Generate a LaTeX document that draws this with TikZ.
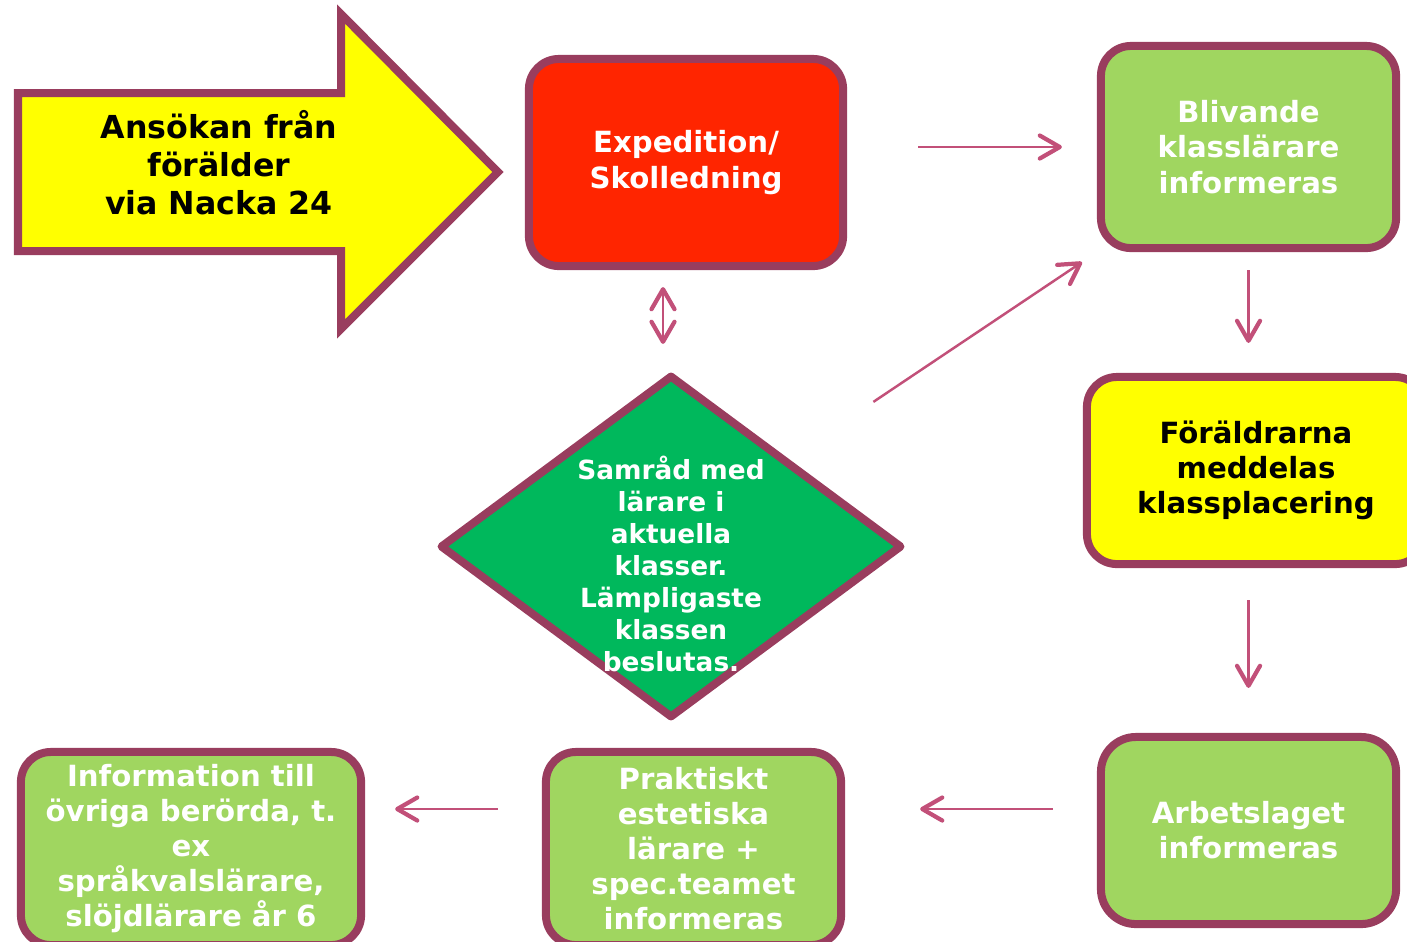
\documentclass[tikz,border=0pt]{standalone}
\usepackage{fontspec}
\setmainfont{DejaVu Sans}
\usetikzlibrary{arrows.meta,shapes.geometric}
\definecolor{rim}{HTML}{993D5E}
\definecolor{pil}{HTML}{C25079}
\definecolor{gul}{HTML}{FFFF00}
\definecolor{rod}{HTML}{FF2500}
\definecolor{ljusgron}{HTML}{A0D660}
\definecolor{gron}{HTML}{00B85C}

\tikzset{
  ruta/.style={draw=rim, line width=0.8mm, rounded corners=3mm, align=center, inner sep=0pt,
    font=\bfseries\fontsize{8.3}{10}\selectfont},
  pilen/.style={draw=pil, line width=0.7pt,
    >={Straight Barb[length=2mm,width=2.3mm,line width=1.2pt,round]}},
}

\begin{document}
\begin{tikzpicture}[x=0.01cm, y=-0.01cm] % pixel grid, y downwards
	\clip (0,0) rectangle (1407,941);
	% ansokan (yellow arrow)
	\draw[draw=rim, fill=gul, line width=0.8mm] (18,93) -- (341,93) -- (341,14) -- (498,172) -- (341,329) -- (341,251) -- (18,251) -- cycle;
	\node[align=center, font=\bfseries\fontsize{9}{10.8}\selectfont] (ansokan) at (219,163) {Ansökan från\\förälder\\via Nacka 24};

	\node[ruta, fill=rod, text=white, minimum width=3.14cm, minimum height=2.07cm] (expedition) at (686,162.5) {Expedition/\\Skolledning};
	\node[diamond, draw=rim, fill=gron, line width=0.8mm, line join=round, inner sep=0pt,
		minimum width=4.62cm, minimum height=3.43cm] (samrad) at (671,546.5) {};
	\node[align=center, text=white, font=\bfseries\fontsize{7.5}{9.1}\selectfont] (samradtext) at (671,564) {Samråd med\\lärare i\\aktuella\\klasser.\\Lämpligaste\\klassen\\beslutas.};

	\node[ruta, fill=ljusgron, text=white, minimum width=2.95cm, minimum height=2.02cm] (blivande) at (1248.5,147) {Blivande\\klasslärare\\informeras};
	\node[ruta, fill=gul, minimum width=3.38cm, minimum height=1.87cm] (foraldrar) at (1256,470.5) {Föräldrarna\\meddelas\\klassplacering};
	\node[ruta, fill=ljusgron, text=white, minimum width=2.95cm, minimum height=1.87cm, rounded corners=3.5mm] (arbetslag) at (1248.5,830.5) {Arbetslaget\\informeras};
	\node[ruta, fill=ljusgron, text=white, minimum width=2.95cm, minimum height=1.93cm] (praktiskt) at (693.5,848.5) {Praktiskt\\estetiska\\lärare +\\spec.teamet\\informeras};
	\node[ruta, fill=ljusgron, text=white, minimum width=3.40cm, minimum height=1.93cm] (information) at (191,848.5) {Information till\\övriga berörda, t.\\ex\\språkvalslärare,\\slöjdlärare år 6};

	\coordinate (dbl) at (663,0);
	\coordinate (rad) at (0,809);
	\draw[pilen, ->, shorten <=7.1mm, shorten >=3.5mm] (expedition.east |- blivande.west) -- (blivande.west);
	\draw[pilen, <->, shorten <=1.7mm, shorten >=2.7mm] (expedition.south -| dbl) -- (samrad.north -| dbl);
	\draw[pilen, ->, shorten <=10.2mm, shorten >=1.8mm] (samrad.north east) -- (blivande.south west);
	\draw[pilen, ->, shorten <=1.8mm, shorten >=3mm] (blivande.south) -- (blivande.south |- foraldrar.north);
	\draw[pilen, ->, shorten <=3.2mm, shorten >=4.5mm] (arbetslag.north |- foraldrar.south) -- (arbetslag.north);
	\draw[pilen, ->, shorten <=4.4mm, shorten >=7.5mm] (arbetslag.west |- rad) -- (praktiskt.east |- rad);
	\draw[pilen, ->, shorten <=4.4mm, shorten >=3mm] (praktiskt.west |- rad) -- (information.east |- rad);
\end{tikzpicture}
\end{document}
